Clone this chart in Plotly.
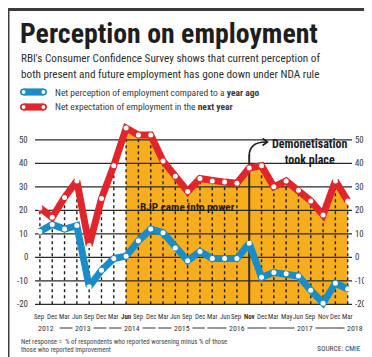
import plotly.graph_objects as go

# ---------------- data ----------------
months = ["Sep","Dec","Mar","Jun","Sep","Dec","Mar","Jun","Sep","Dec","Mar","Jun","Sep",
          "Dec","Mar","Jun","Sep","Nov","Dec","Mar","May","Jun","Sep","Nov","Dec","Mar"]
bold_months = [7, 17]  # Jun 2014 (BJP), Nov 2016 (demonetisation)
next_year = [21, 17, 25.5, 32.5, 5, 25, 39, 55, 52, 52, 41, 34.5, 28, 33.5, 32.5, 32, 31.5,
             38, 39, 30, 32.5, 28.5, 24, 18, 32.5, 24]
year_ago = [11, 14, 12, 13.5, -12.5, -5.5, -0.5, 0.5, 7, 12, 10.5, 4, -1.5, 2.5, -0.5, -0.5,
            -0.5, 6, -8.5, -6.5, -7, -8, -14, -19.5, -11, -13.5]
years = ["2012", "2013", "2014", "2015", "2016", "2017", "2018"]
year_start = [0, 2, 6, 10, 14, 19, 25]
year_end = [1, 5, 9, 13, 18, 24, 25]
yticks = [50, 40, 30, 20, 10, 0, -10, -20]
bjp_index = 7
demo_index = 17

# ---------------- style ----------------
RED = "#E2242B"
BLUE = "#1A8DC9"
ORANGE = "#F7AE1E"
DARK = "#2a2a2a"
FONT = "Roboto Condensed, Liberation Sans Narrow, sans-serif"

W, H = 372, 357
L, R, T, B = 27, 28, 113, 56
PW, PH = W - L - R, H - T - B
XR = [-0.4, 25.35]
YR = [-22, 58]


def px(x):
    return (x - L) / PW


def py(y):
    return (H - B - y) / PH


n = len(months)
idx = list(range(n))
fig = go.Figure()

# orange area from BJP onwards
xs = idx[bjp_index:]
fx = xs + [xs[-1], xs[0]]
fy = next_year[bjp_index:] + [min(yticks), min(yticks)]
fig.add_trace(go.Scatter(x=fx, y=fy, fill="toself", fillcolor=ORANGE, mode="none",
                         hoverinfo="skip", showlegend=False))

# horizontal grid lines
gx, gy = [], []
for v in yticks:
    gx += [XR[0], XR[1], None]
    gy += [v, v, None]
fig.add_trace(go.Scatter(x=gx, y=gy, mode="lines", line=dict(color=DARK, width=1.2),
                         hoverinfo="skip", showlegend=False))

# dashed verticals
dx, dy = [], []
for i in idx:
    if i == demo_index:
        continue
    dx += [i, i, None]
    dy += [min(yticks), next_year[i], None]
fig.add_trace(go.Scatter(x=dx, y=dy, mode="lines",
                         line=dict(color="#1e1e1e", width=1.4, dash="3px,3px"),
                         hoverinfo="skip", showlegend=False))

# demonetisation solid line
fig.add_trace(go.Scatter(x=[demo_index, demo_index], y=[min(yticks), next_year[demo_index] + 5.5],
                         mode="lines", line=dict(color="#3a2a22", width=2),
                         hoverinfo="skip", showlegend=False, cliponaxis=False))

# series lines
fig.add_trace(go.Scatter(x=idx, y=year_ago, mode="lines+markers",
                         line=dict(color=BLUE, width=7),
                         marker=dict(color="white", size=5, line=dict(width=0)),
                         hoverinfo="skip", showlegend=False, cliponaxis=False))
fig.add_trace(go.Scatter(x=idx, y=next_year, mode="lines+markers",
                         line=dict(color=RED, width=7),
                         marker=dict(color="white", size=5, line=dict(width=0)),
                         hoverinfo="skip", showlegend=False, cliponaxis=False))

ann = []
shapes = []


def text(x, y, s, size, color="#333", xanchor="left", yanchor="middle", **kw):
    ann.append(dict(x=x, y=y, xref="paper", yref="paper", text=s, showarrow=False,
                    xanchor=xanchor, yanchor=yanchor,
                    font=dict(family=FONT, size=size, color=color), **kw))


# title block
text(px(10), py(25), "<b>Perception on employment</b>", 27.8, "#1e1e1e")
text(px(11), py(50), "RBI's Consumer Confidence Survey shows that current perception of", 11.2, "#2e2e2e")
text(px(11), py(66), "both present and future employment has gone down under NDA rule", 11.2, "#2e2e2e")
text(px(45), py(84), "Net perception of employment compared to a <b>year ago</b>", 9.5, "#3a3a3a")
text(px(45), py(99), "Net expectation of employment in the <b>next year</b>", 9.5, "#3a3a3a")


def circle(cx, cy, r, col):
    shapes.append(dict(type="circle", xref="paper", yref="paper",
                       x0=px(cx - r), x1=px(cx + r), y0=py(cy + r), y1=py(cy - r),
                       fillcolor=col, line=dict(width=0)))


# legend pills
for yc, col in [(84, BLUE), (99, RED)]:
    x0, x1, r = 12, 39, 3.6
    shapes.append(dict(type="rect", xref="paper", yref="paper",
                       x0=px(x0 + r), x1=px(x1 - r), y0=py(yc + r), y1=py(yc - r),
                       fillcolor=col, line=dict(width=0)))
    circle(x0 + r, yc, r, col)
    circle(x1 - r, yc, r, col)
    circle(x0 + r, yc, 1.9, "white")
    circle(x1 - r, yc, 1.9, "white")

# y labels (both sides)
for v in yticks:
    ann.append(dict(x=px(22), y=v, xref="paper", yref="y", text=str(v), showarrow=False,
                    xanchor="right", yanchor="middle",
                    font=dict(family=FONT, size=8.8, color="#333")))
    ann.append(dict(x=px(344.5), y=v, xref="paper", yref="y", text=str(v), showarrow=False,
                    xanchor="left", yanchor="middle",
                    font=dict(family=FONT, size=8.8, color="#333")))

# month labels
for i, m in enumerate(months):
    s = f"<b>{m}</b>" if i in bold_months else m
    ann.append(dict(x=i, y=py(309), xref="x", yref="paper", text=s, showarrow=False,
                    xanchor="center", yanchor="middle",
                    font=dict(family=FONT, size=6.9, color="#333")))

# year labels with rules
for yl, s0, s1 in zip(years, year_start, year_end):
    if s1 > s0 and yl != years[0]:
        shapes.append(dict(type="line", xref="x", yref="paper", x0=s0 - 0.4, x1=s1 + 0.4,
                           y0=py(320), y1=py(320), line=dict(color="#333", width=1)))
        ann.append(dict(x=(s0 + s1) / 2, y=py(320), xref="x", yref="paper", text=yl,
                        showarrow=False, xanchor="center", yanchor="middle", bgcolor="white",
                        borderpad=2, font=dict(family=FONT, size=7.9, color="#333")))
    elif yl == years[-1]:
        shapes.append(dict(type="line", xref="x", yref="paper", x0=s0 - 0.65, x1=s0 - 0.25,
                           y0=py(320), y1=py(320), line=dict(color="#333", width=1)))
        ann.append(dict(x=s0 - 0.22, y=py(320), xref="x", yref="paper", text=yl,
                        showarrow=False, xanchor="left", yanchor="middle",
                        font=dict(family=FONT, size=7.9, color="#333")))
    else:
        ann.append(dict(x=(s0 + s1) / 2, y=py(320), xref="x", yref="paper", text=yl,
                        showarrow=False, xanchor="center", yanchor="middle",
                        font=dict(family=FONT, size=7.9, color="#333")))

# footnotes
text(px(11), py(333.5), "Net response =  % of respondents who reported worsening minus % of those", 6.9, "#444")
text(px(11), py(341.5), "those who reported improvement", 6.9, "#444")
text(px(355), py(340), "SOURCE: CMIE", 7.5, "#444", xanchor="right")

# BJP annotation
ann.append(dict(x=px(179), y=py(199.5), xref="paper", yref="paper",
                text="<b>BJP came into power</b>", showarrow=False, xanchor="center",
                yanchor="middle", font=dict(family=FONT, size=11.2, color="#1e1e1e")))

# Demonetisation annotation
ann.append(dict(x=px(302), y=py(143.5), xref="paper", yref="paper",
                text="<b>Demonetisation<br>took place</b>", showarrow=False, xanchor="center",
                yanchor="middle", font=dict(family=FONT, size=12, color="#1e1e1e")))
lx = L + (demo_index - XR[0]) * PW / (XR[1] - XR[0])
shapes.append(dict(type="path", xref="paper", yref="paper",
                   path=f"M {px(lx)},{py(148)} Q {px(lx)},{py(134)} {px(258)},{py(134)}",
                   line=dict(color="#1e1e1e", width=1.6)))
shapes.append(dict(type="path", xref="paper", yref="paper",
                   path=f"M {px(254.5)},{py(130.5)} L {px(259.5)},{py(134)} L {px(254.5)},{py(137.5)}",
                   line=dict(color="#1e1e1e", width=1.6)))

# frame
frame = "#3c3c3c"
for (x0, y0, x1, y1) in [(0, 0, W, 3), (0, 0, 1.5, H), (W - 2, 0, W, H), (0, H - 5, W, H)]:
    shapes.append(dict(type="rect", xref="paper", yref="paper", x0=px(x0), x1=px(x1),
                       y0=py(y1), y1=py(y0), fillcolor=frame, line=dict(width=0)))

fig.update_layout(
    width=W, height=H,
    margin=dict(l=L, r=R, t=T, b=B, pad=0),
    paper_bgcolor="white", plot_bgcolor="white",
    xaxis=dict(range=XR, showgrid=False, zeroline=False, showticklabels=False,
               showline=False, ticks=""),
    yaxis=dict(range=YR, showgrid=False, zeroline=False, showticklabels=False,
               showline=False, ticks=""),
    annotations=ann, shapes=shapes, showlegend=False,
)

fig.write_html("out.html")
